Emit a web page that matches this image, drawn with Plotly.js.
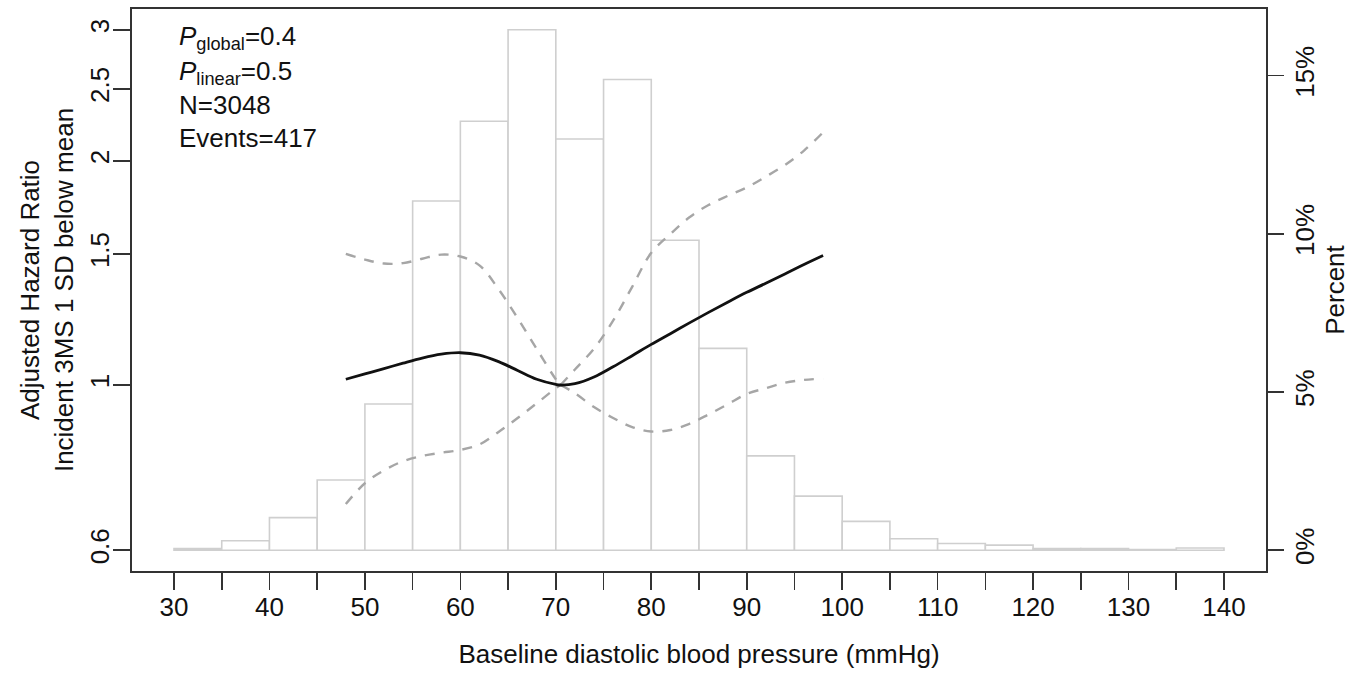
<!DOCTYPE html>
<html>
<head>
<meta charset="utf-8">
<script src="https://cdn.plot.ly/plotly-3.0.1.min.js"></script>
<style>html,body{margin:0;padding:0;background:#fff;}#chart{width:1361px;height:673px;}</style>
</head>
<body>
<div id="chart"></div>
<script>
// Histogram of baseline diastolic blood pressure (bin centres, percent of participants)
const bpBinCenters = [32.5, 37.5, 42.5, 47.5, 52.5, 57.5, 62.5, 67.5, 72.5, 77.5, 82.5,
                      87.5, 92.5, 97.5, 102.5, 107.5, 112.5, 117.5, 122.5, 127.5, 132.5, 137.5];
const bpPercent = [0.05, 0.30, 1.03, 2.22, 4.62, 11.04, 13.56, 16.45, 13.00, 14.88, 9.80,
                   6.38, 2.98, 1.71, 0.91, 0.36, 0.21, 0.16, 0.05, 0.05, 0.02, 0.07];

// Spline estimate of adjusted hazard ratio with 95% CI
const refDBP = 70.5;
const dbp = [48, 50, 52, 54, 56, 58, 60, 62, 64, 66, 68, 70, 70.5, 72, 74, 76, 78, 80,
             82, 84, 86, 88, 90, 92, 94, 96, 98];
const hrEst = [1.018, 1.035, 1.052, 1.070, 1.087, 1.100, 1.105, 1.097, 1.075, 1.046, 1.018, 1.002, 1.000,
               1.004, 1.025, 1.058, 1.095, 1.134, 1.172, 1.212, 1.252, 1.292, 1.332, 1.370, 1.410, 1.452, 1.493];
const hrUpper = [1.500, 1.474, 1.456, 1.458, 1.478, 1.497, 1.488, 1.448, 1.345, 1.230, 1.118, 1.018, 1.000,
                 1.049, 1.119, 1.220, 1.355, 1.505, 1.595, 1.680, 1.745, 1.795, 1.842, 1.905, 1.975, 2.065, 2.185];
const hrLower = [0.692, 0.738, 0.768, 0.790, 0.803, 0.811, 0.818, 0.832, 0.865, 0.903, 0.945, 0.990, 1.000,
                 0.975, 0.934, 0.903, 0.878, 0.866, 0.870, 0.887, 0.913, 0.942, 0.973, 0.990, 1.007, 1.016, 1.020];

// Tick labels
const xTickVals = [30, 40, 50, 60, 70, 80, 90, 100, 110, 120, 130, 140];
const xTickText = ['30', '40', '50', '60', '70', '80', '90', '100', '110', '120', '130', '140'];
const hrTickVals = [0.6, 1, 1.5, 2, 2.5, 3];
const hrTickText = ['0.6', '1', '1.5', '2', '2.5', '3'];
const pctTickVals = [0, 5, 10, 15];
const pctTickText = ['0%', '5%', '10%', '15%'];

const statLines = ['<i>P</i><sub>global</sub>=0.4', '<i>P</i><sub>linear</sub>=0.5', 'N=3048', 'Events=417'];

const FONT = 'Liberation Sans, Arial, Helvetica, sans-serif';
const FS = 26;
const TXT = '#111111';
const AX = '#333333';

function splitAt(xs, ys, ref, left) {
  const ox = [], oy = [];
  xs.forEach((x, i) => { if (left ? x <= ref : x >= ref) { ox.push(x); oy.push(ys[i]); } });
  return {x: ox, y: oy};
}

const traces = [];
traces.push({
  type: 'bar', x: bpBinCenters, y: bpPercent, width: 5,
  marker: {color: '#ffffff', line: {color: '#cfcfcf', width: 1.6}},
  xaxis: 'x', yaxis: 'y', hoverinfo: 'x+y'
});
[hrUpper, hrLower].forEach(arr => {
  [true, false].forEach(side => {
    const s = splitAt(dbp, arr, refDBP, side);
    traces.push({
      type: 'scatter', mode: 'lines', x: s.x, y: s.y, xaxis: 'x', yaxis: 'y2',
      line: {color: '#a6a6a6', width: 2.4, dash: '10px,9px', shape: 'spline', smoothing: 1}
    });
  });
});
traces.push({
  type: 'scatter', mode: 'lines', x: dbp, y: hrEst, xaxis: 'x', yaxis: 'y2',
  line: {color: '#111111', width: 2.8, shape: 'spline', smoothing: 1}
});

const annotations = statLines.map((t, i) => ({
  xref: 'paper', yref: 'paper', x: 0.040, y: [0.9493, 0.887, 0.8297, 0.7705][i],
  xanchor: 'left', yanchor: 'middle', showarrow: false, text: t,
  font: {family: FONT, size: FS, color: TXT}
}));

const layout = {
  width: 1361, height: 673,
  margin: {l: 132, r: 95, t: 9, b: 102, pad: 0},
  paper_bgcolor: '#ffffff', plot_bgcolor: '#ffffff',
  showlegend: false,
  font: {family: FONT, size: FS, color: TXT},
  xaxis: {
    range: [25.6, 144.4], tickmode: 'array', tickvals: xTickVals, ticktext: xTickText,
    ticks: 'outside', ticklen: 17, tickwidth: 1.6, tickcolor: AX, ticklabelstandoff: -5,
    minor: {tickmode: 'linear', tick0: 30, dtick: 5, ticks: 'outside', ticklen: 17, tickwidth: 1.6, tickcolor: AX, showgrid: false},
    showline: true, linecolor: AX, linewidth: 1.6, mirror: true,
    showgrid: false, zeroline: false,
    tickfont: {family: FONT, size: FS, color: TXT},
    title: {text: 'Baseline diastolic blood pressure (mmHg)', font: {family: FONT, size: FS, color: TXT}, standoff: 24}
  },
  yaxis: {
    side: 'right', range: [-0.658, 17.108], tickmode: 'array', tickvals: pctTickVals, ticktext: pctTickText,
    ticks: 'outside', ticklen: 16, tickwidth: 1.6, tickcolor: AX, tickangle: -90, ticklabelstandoff: -1,
    showline: true, linecolor: AX, linewidth: 1.6, mirror: true,
    showgrid: false, zeroline: false,
    tickfont: {family: FONT, size: FS, color: TXT},
    title: {text: 'Percent', font: {family: FONT, size: FS, color: TXT}, standoff: 4}
  },
  yaxis2: {
    overlaying: 'y', side: 'left', type: 'log',
    range: [Math.log10(0.6) - 0.028, Math.log10(3) + 0.028],
    tickmode: 'array', tickvals: hrTickVals, ticktext: hrTickText,
    ticks: 'outside', ticklen: 17, tickwidth: 1.6, tickcolor: AX, tickangle: -90, ticklabelstandoff: -6,
    showline: true, linecolor: AX, linewidth: 1.6,
    showgrid: false, zeroline: false,
    tickfont: {family: FONT, size: FS, color: TXT},
    title: {text: 'Adjusted Hazard Ratio<br>Incident 3MS 1 SD below mean', font: {family: FONT, size: FS, color: TXT}, standoff: 4}
  },
  annotations: annotations
};

Plotly.newPlot('chart', traces, layout, {staticPlot: true, displayModeBar: false});
</script>
</body>
</html>
